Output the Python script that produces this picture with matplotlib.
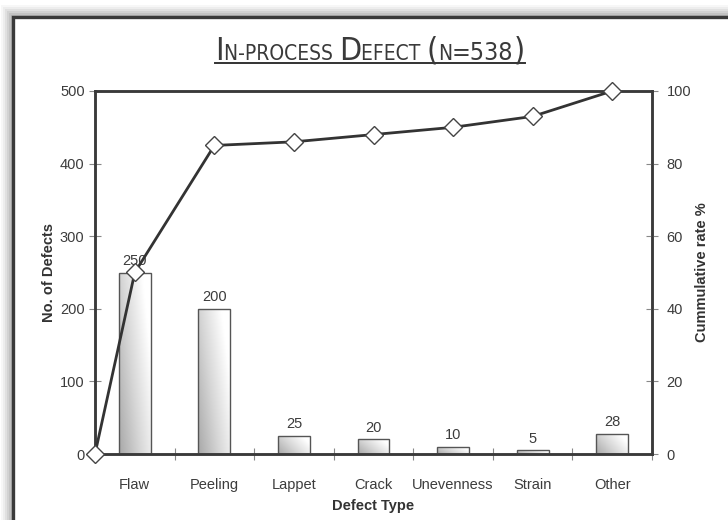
import numpy as np
import matplotlib
matplotlib.use("Agg")
import matplotlib.pyplot as plt
from matplotlib.patches import Rectangle
from matplotlib.colors import LinearSegmentedColormap

categories = ["Flaw", "Peeling", "Lappet", "Crack", "Unevenness", "Strain", "Other"]
defects = [250, 200, 25, 20, 10, 5, 28]
cumulative_rate = [0, 50, 85, 86, 88, 90, 93, 100]
left_ticks = [0, 100, 200, 300, 400, 500]
right_ticks = [0, 20, 40, 60, 80, 100]

W, H = 728, 520
fig = plt.figure(figsize=(W / 100, H / 100), dpi=100)
fig.patch.set_facecolor("white")

def fx(px):
    return px / W

def fy(py):
    return 1 - py / H

# soft drop shadow and frame around the whole chart
for i, a in enumerate([0.03, 0.04, 0.05, 0.06, 0.07, 0.08]):
    off = 6 - i
    fig.patches.append(Rectangle((fx(13 - off * 2), fy(600)), 1.2, fy(17 - off * 2) - fy(600),
                                 transform=fig.transFigure, facecolor="black", alpha=a,
                                 edgecolor="none", zorder=0))
fig.patches.append(Rectangle((fx(13), fy(600)), 1.2, fy(17) - fy(600),
                             transform=fig.transFigure, facecolor="white",
                             edgecolor="#3a3a3a", linewidth=2.4, zorder=1))

ax = fig.add_axes([fx(95), fy(454), fx(652) - fx(95), fy(91) - fy(454)])
ax.set_zorder(2)
ax.patch.set_visible(False)

x = np.arange(len(categories))
bar_w = 0.4
ax.set_xlim(-0.5, len(categories) - 0.5)
ax.set_ylim(0, 500)

grad_cmap = LinearSegmentedColormap.from_list("g", ["#a8a8a8", "#d6d6d6", "#ffffff"])
gx, gy = np.meshgrid(np.linspace(0, 1, 60), np.linspace(0, 1, 200))
for xi, v in zip(x, defects):
    left = xi - bar_w / 2
    rect = Rectangle((left, 0), bar_w, v, facecolor="none", edgecolor="#555555",
                     linewidth=1.0, zorder=3)
    ax.add_patch(rect)
    # diagonal shading: grey at lower-left, white at upper-right
    g = np.clip(0.75 * gx + 0.45 * gy, 0, 1)
    im = ax.imshow(g, cmap=grad_cmap, extent=(left, left + bar_w, 0, v), origin="lower",
                   aspect="auto", zorder=2, vmin=0, vmax=1, interpolation="bilinear")
    im.set_clip_path(rect)
    ax.text(xi, v + 6, str(v), ha="center", va="bottom", fontsize=10.5,
            color="#3c3c3c", family="Liberation Sans", zorder=6)

ax.set_xlim(-0.5, len(categories) - 0.5)
ax.set_xticks(np.arange(-0.5, len(categories), 1.0))
ax.set_xticklabels([])
ax.set_xticks(x, minor=True)
ax.set_xticklabels(categories, minor=True, fontsize=10.5, color="#3c3c3c",
                   family="Liberation Sans")
ax.tick_params(axis="x", which="minor", length=0, pad=17)
ax.tick_params(axis="x", which="major", direction="inout", length=8, color="#888888")
ax.set_yticks(left_ticks)
ax.set_yticklabels([str(t) for t in left_ticks], fontsize=10.5, color="#3c3c3c",
                   family="Liberation Sans")
ax.tick_params(axis="y", direction="inout", length=9, color="#888888", pad=3)
ax.set_xlabel("Defect Type", fontsize=10.5, fontweight="bold", color="#333333",
              family="Liberation Sans", labelpad=5)
ax.set_ylabel("No. of Defects", fontsize=10.5, fontweight="bold", color="#333333",
              family="Liberation Sans", labelpad=3)
for s in ax.spines.values():
    s.set_color("#3a3a3a")
    s.set_linewidth(1.8)

ax2 = ax.twinx()
ax2.set_zorder(3)
ax2.patch.set_visible(False)
ax2.set_ylim(0, 100)
ax2.set_yticks(right_ticks)
ax2.set_yticklabels([str(t) for t in right_ticks], fontsize=10.5, color="#3c3c3c",
                    family="Liberation Sans")
ax2.tick_params(axis="y", direction="inout", length=9, color="#888888", pad=6)
ax2.set_ylabel("Cummulative rate %", fontsize=10.5, fontweight="bold", color="#333333",
               family="Liberation Sans", labelpad=3)
for s in ax2.spines.values():
    s.set_color("#3a3a3a")
    s.set_linewidth(1.8)

line_x = np.concatenate([[-0.5], x])
ax2.plot(line_x, cumulative_rate, color="#333333", linewidth=2.0, marker="D",
         markersize=9, markerfacecolor="white", markeredgecolor="#444444",
         markeredgewidth=1.0, clip_on=False, zorder=5)

# small-caps style title built from runs of two sizes
runs = [("I", 23), ("N-PROCESS ", 15), ("D", 23), ("EFECT ", 15), ("(", 23),
        ("N", 15), ("=538", 18), (")", 23)]
renderer = fig.canvas.get_renderer()
texts, widths = [], []
for s, size in runs:
    t = fig.text(0, fy(60), s, fontsize=size, color="#3a3a3a", family="DejaVu Sans",
                 ha="left", va="baseline", fontstretch="condensed")
    bb = t.get_window_extent(renderer)
    texts.append(t)
    widths.append(bb.width)
total = sum(widths)
start = 370 - total / 2
cur = start
for t, w in zip(texts, widths):
    t.set_x(fx(cur))
    cur += w
fig.lines.append(plt.Line2D([fx(start), fx(cur)], [fy(63), fy(63)], transform=fig.transFigure,
                            color="#333333", linewidth=1.4))

fig.savefig("out.png", dpi=100)
